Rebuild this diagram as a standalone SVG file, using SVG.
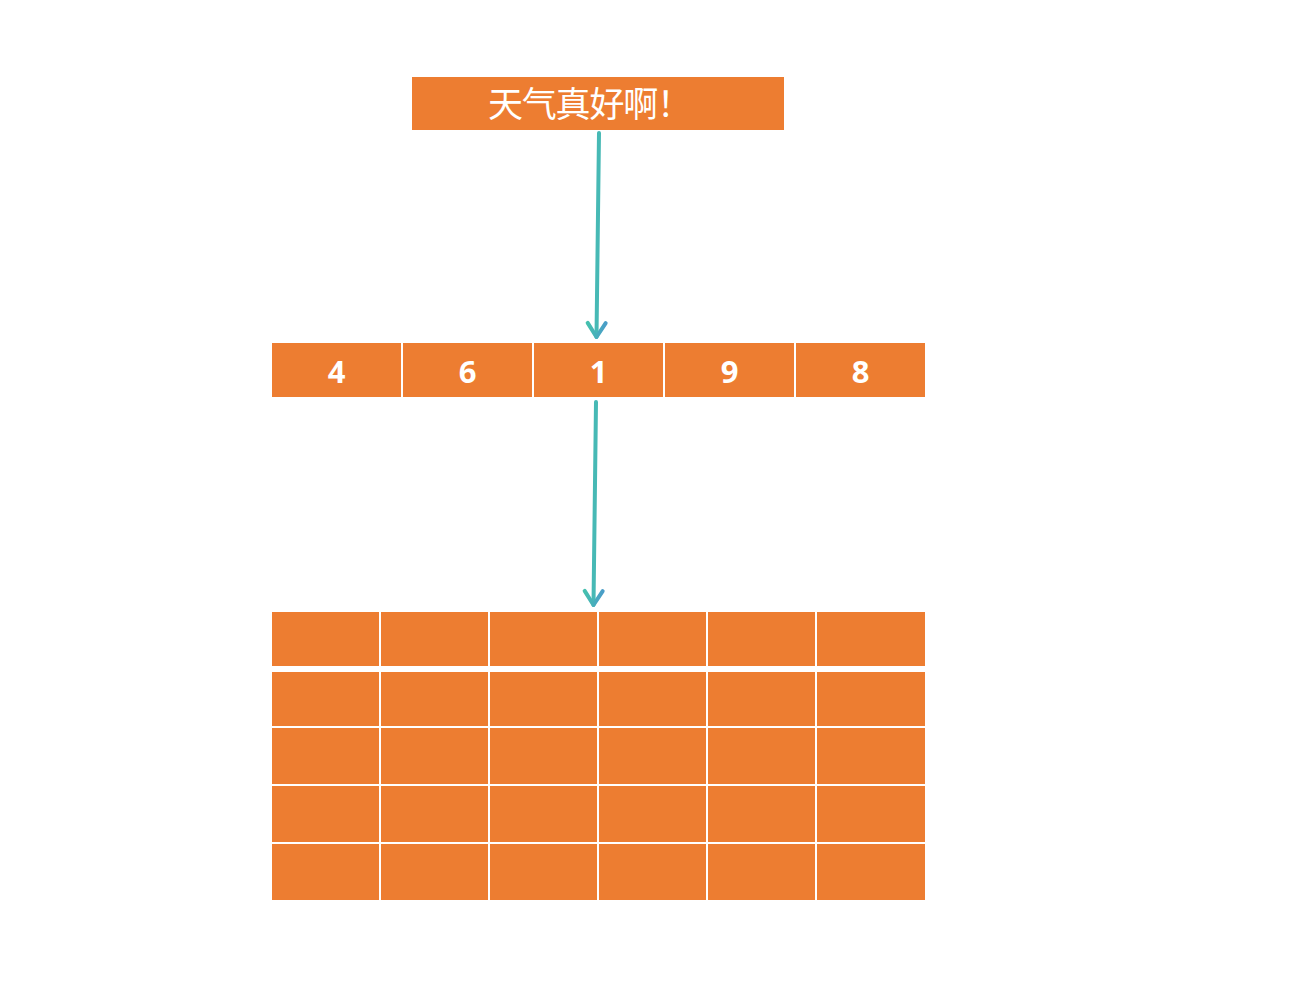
<svg xmlns="http://www.w3.org/2000/svg" width="1299" height="988" viewBox="0 0 1299 988">
<style>
.cell{fill:#ED7D31}
.num{font-family:"Open Sans","Liberation Sans",sans-serif;font-weight:bold;font-size:31px;fill:#fff;text-anchor:middle}
.title{font-family:"Noto Sans CJK SC",sans-serif;font-size:35px;fill:#fff}
.conn{stroke:#47B9B5;stroke-width:4;fill:none;stroke-linecap:round}
</style>
<defs>
<linearGradient id="hg" x1="0" y1="0" x2="0" y2="1">
<stop offset="0" stop-color="#4A9DC8"/>
<stop offset="1" stop-color="#45C0AE"/>
</linearGradient>
<marker id="chev" viewBox="-18 -12 22 24" refX="0" refY="0" markerWidth="22" markerHeight="24" markerUnits="userSpaceOnUse" orient="auto">
<path d="M-14,-9 L0,0 L-14,9" fill="none" stroke="url(#hg)" stroke-width="4" stroke-linecap="round" stroke-linejoin="round"/>
</marker>
</defs>
<rect width="1299" height="988" fill="#fff"/>
<g id="title">
<rect class="cell" x="412" y="77" width="372" height="53"/>
<text class="title" x="488" y="117" textLength="204">天气真好啊！</text>
</g>
<g id="array">
<rect class="cell" x="272" y="343" width="129" height="54"/>
<rect class="cell" x="403" y="343" width="129" height="54"/>
<rect class="cell" x="534" y="343" width="129" height="54"/>
<rect class="cell" x="665" y="343" width="129" height="54"/>
<rect class="cell" x="796" y="343" width="129" height="54"/>
<text class="num" x="336.5" y="383">4</text>
<text class="num" x="467.5" y="383">6</text>
<text class="num" x="598.5" y="383">1</text>
<text class="num" x="729.5" y="383">9</text>
<text class="num" x="860.5" y="383">8</text>
</g>
<g id="grid">
<g id="row1">
<rect class="cell" x="272" y="612" width="107" height="54"/>
<rect class="cell" x="381" y="612" width="107" height="54"/>
<rect class="cell" x="490" y="612" width="107" height="54"/>
<rect class="cell" x="599" y="612" width="107" height="54"/>
<rect class="cell" x="708" y="612" width="107" height="54"/>
<rect class="cell" x="817" y="612" width="108" height="54"/>
</g>
<g id="row2">
<rect class="cell" x="272" y="672" width="107" height="54"/>
<rect class="cell" x="381" y="672" width="107" height="54"/>
<rect class="cell" x="490" y="672" width="107" height="54"/>
<rect class="cell" x="599" y="672" width="107" height="54"/>
<rect class="cell" x="708" y="672" width="107" height="54"/>
<rect class="cell" x="817" y="672" width="108" height="54"/>
</g>
<g id="row3">
<rect class="cell" x="272" y="728" width="107" height="56"/>
<rect class="cell" x="381" y="728" width="107" height="56"/>
<rect class="cell" x="490" y="728" width="107" height="56"/>
<rect class="cell" x="599" y="728" width="107" height="56"/>
<rect class="cell" x="708" y="728" width="107" height="56"/>
<rect class="cell" x="817" y="728" width="108" height="56"/>
</g>
<g id="row4">
<rect class="cell" x="272" y="786" width="107" height="56"/>
<rect class="cell" x="381" y="786" width="107" height="56"/>
<rect class="cell" x="490" y="786" width="107" height="56"/>
<rect class="cell" x="599" y="786" width="107" height="56"/>
<rect class="cell" x="708" y="786" width="107" height="56"/>
<rect class="cell" x="817" y="786" width="108" height="56"/>
</g>
<g id="row5">
<rect class="cell" x="272" y="844" width="107" height="56"/>
<rect class="cell" x="381" y="844" width="107" height="56"/>
<rect class="cell" x="490" y="844" width="107" height="56"/>
<rect class="cell" x="599" y="844" width="107" height="56"/>
<rect class="cell" x="708" y="844" width="107" height="56"/>
<rect class="cell" x="817" y="844" width="108" height="56"/>
</g>
</g>
<g id="connectors">
<line class="conn" x1="599" y1="133" x2="596.5" y2="337" marker-end="url(#chev)"/>
<line class="conn" x1="596" y1="402" x2="593.5" y2="605" marker-end="url(#chev)"/>
</g>
</svg>
